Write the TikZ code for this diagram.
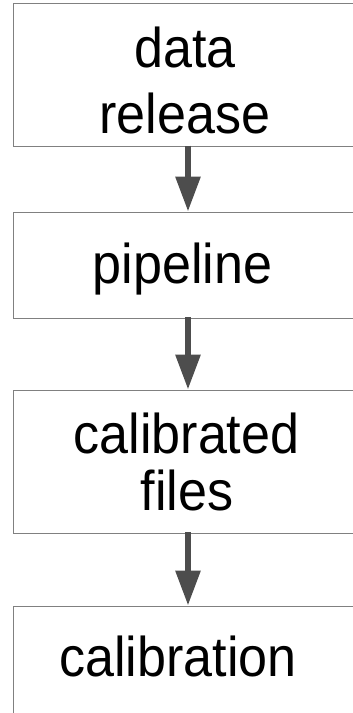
\documentclass[tikz,border=0pt]{standalone}
\usepackage{fontspec}
\setmainfont{Liberation Sans}[FakeStretch=0.93]
\usetikzlibrary{arrows.meta}
\definecolor{boxline}{HTML}{808080}
\definecolor{arrowgrey}{HTML}{4D4D4D}
\begin{document}
\begin{tikzpicture}[x=1pt,y=-1pt,
  box/.style={draw=boxline,line width=1pt,minimum width=350pt,inner sep=0pt},
  txt/.style={anchor=base,inner sep=0pt,font=\fontsize{56}{62}\selectfont},
  flow/.style={draw=arrowgrey,line width=6pt,-{Triangle[width=24pt,length=35pt]}}]
\useasboundingbox (0,0) rectangle (353,713);
\clip (0,0) rectangle (353,713);
\fill[white] (0,0) rectangle (353,713);
\node[box,minimum height=143pt] (b1) at (188,75) {};
\node[box,minimum height=106pt] (b2) at (188,265) {};
\node[box,minimum height=143pt] (b3) at (188,461.5) {};
\node[box,minimum height=112pt] (b4) at (188,662) {};
\node[txt] (t1a) at (185,67) {data};
\node[txt] (t1b) at (185,133) {release};
\node[txt] (t2) at (182.6,283) {pipeline};
\node[txt] (t3a) at (186.5,453) {calibrated};
\node[txt] (t3b) at (187,510) {files};
\node[txt] (t4) at (178,676) {calibration};
\draw[flow] ([yshift=1.5pt]b1.south) -- (b2.north);
\draw[flow] ([yshift=1.5pt]b2.south) -- (b3.north);
\draw[flow] ([yshift=1.5pt]b3.south) -- (b4.north);
\end{tikzpicture}
\end{document}
